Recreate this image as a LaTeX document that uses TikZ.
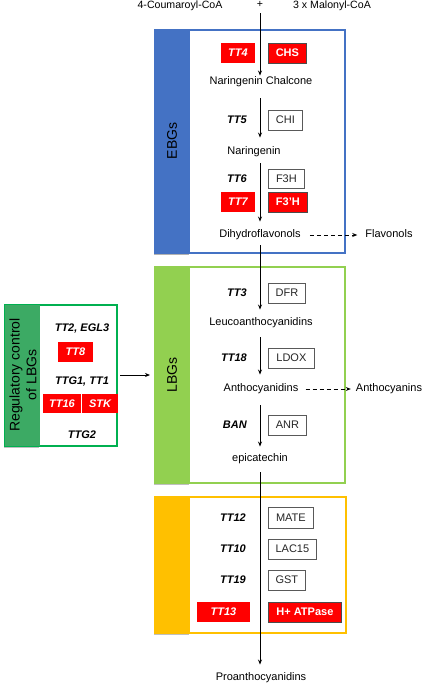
\documentclass[tikz,border=0pt]{standalone}
\usepackage{fontspec}
\setmainfont{Liberation Sans}
\usetikzlibrary{arrows.meta}
\newcommand\fsz[1]{\fontsize{#1}{#1}\selectfont}
\definecolor{ebgblue}{HTML}{4472C4}
\definecolor{lbggreen}{HTML}{92D050}
\definecolor{ylw}{HTML}{FFC000}
\definecolor{regborder}{HTML}{00B050}
\definecolor{regbar}{HTML}{3CAA64}
\definecolor{boxgray}{HTML}{595959}
\begin{document}
\begin{tikzpicture}[x=1pt,y=-1pt,
  txt/.style={font=\fsz{11}, inner sep=1pt, text height=8pt, text depth=2.5pt},
  toptxt/.style={font=\fsz{10.6}, inner sep=1pt, text height=7.5pt, text depth=2.2pt},
  gene/.style={font=\bfseries\itshape\fsz{11}, inner sep=1pt, anchor=east},
  regtxt/.style={font=\bfseries\itshape\fsz{11}, inner sep=1pt},
  redgene/.style={fill=red, text=white, font=\bfseries\itshape\fsz{11}, inner sep=0pt, minimum height=20pt},
  enz/.style={draw=boxgray, line width=0.8pt, fill=white, font=\fsz{11}, inner sep=0pt, minimum height=20pt, anchor=west, text=black!85},
  redenz/.style={draw=black!70, line width=0.8pt, fill=red, text=white, font=\bfseries\fsz{11}, inner sep=0pt, minimum height=20pt, anchor=west},
  grouplbl/.style={font=\fsz{14}, rotate=90, inner sep=0pt},
  arr/.style={-{Stealth[length=5pt,width=4pt]}, line width=0.8pt},
  darr/.style={-{Stealth[length=5pt,width=4pt]}, line width=0.8pt, dash pattern=on 4pt off 3pt}
]
\useasboundingbox (0,0) rectangle (423,685);

% ---------- group boxes ----------
\fill[gray!60] (153.5,31.5) rectangle (189,254.5);
\draw[ebgblue, line width=1.5pt, fill=white] (155,30) rectangle (345,253);
\fill[ebgblue] (155,30) rectangle (190,253);
\node[grouplbl] (ebg) at (172,141) {EBGs};

\fill[gray!50] (153.5,268.5) rectangle (189,484.5);
\draw[lbggreen, line width=1.5pt, fill=white] (155,267) rectangle (345,483);
\fill[lbggreen] (155,267) rectangle (190,483);
\node[grouplbl] (lbg) at (172,375) {LBGs};

\fill[gray!50] (153.5,498.5) rectangle (189,634.5);
\draw[ylw, line width=1.5pt, fill=white] (155,497) rectangle (346,633);
\fill[ylw] (155,497) rectangle (190,633);

\fill[gray!50] (3.5,306.5) rectangle (39,447.5);
\draw[regborder, line width=1.5pt, fill=white] (5,305) rectangle (117,446);
\fill[regbar] (5,305) rectangle (40,446);
\node[grouplbl, align=center, font=\fsz{14}\linespread{1.2}\selectfont] (reglbl) at (23,375) {Regulatory control\\of LBGs};
\coordinate (regE) at (117,375);
\coordinate (lbgW) at (155,375);

% ---------- top substrates ----------
\node[toptxt] (coum) at (180,6) {4-Coumaroyl-CoA};
\node[toptxt] (plus) at (260,5) {+};
\node[toptxt] (malo) at (332,6) {3 x Malonyl-CoA};

% ---------- pathway metabolites ----------
\node[txt] (chal) at (261,82) {Naringenin Chalcone};
\node[txt] (nar) at (254,152) {Naringenin};
\node[txt] (dhf) at (260,235) {Dihydroflavonols};
\node[txt] (flv) at (389,235) {Flavonols};
\node[txt] (leu) at (261,323) {Leucoanthocyanidins};
\node[txt] (ant) at (261,389) {Anthocyanidins};
\node[txt] (acy) at (389,389) {Anthocyanins};
\node[txt] (epi) at (260,459) {epicatechin};
\node[txt] (pro) at (261,678) {Proanthocyanidins};

% ---------- EBG genes / enzymes ----------
\node[redgene, minimum width=34pt] (tt4) at (238,53) {TT4};
\node[redenz, minimum width=38pt] (chs) at (268,53) {CHS};
\node[gene] (tt5) at (248,120) {TT5};
\node[enz, minimum width=34pt] (chi) at (268,120) {CHI};
\node[gene] (tt6) at (248,179) {TT6};
\node[enz, minimum width=36pt, minimum height=19pt] (f3h) at (268,178.5) {F3H};
\node[redgene, minimum width=34pt] (tt7) at (238,202) {TT7};
\node[redenz, minimum width=39pt] (f3ph) at (268,202) {F3'H};

% ---------- LBG genes / enzymes ----------
\node[gene] (tt3) at (248,293) {TT3};
\node[enz, minimum width=37pt] (dfr) at (268,293) {DFR};
\node[gene] (tt18) at (248,358) {TT18};
\node[enz, minimum width=46pt] (ldox) at (268,358) {LDOX};
\node[gene] (ban) at (248,425) {BAN};
\node[enz, minimum width=38pt] (anr) at (268,425) {ANR};

% ---------- transport genes ----------
\node[gene] (tt12) at (247,518) {TT12};
\node[enz, minimum width=45pt, minimum height=21pt] (mate) at (268,517.5) {MATE};
\node[gene] (tt10) at (247,549) {TT10};
\node[enz, minimum width=48pt] (lac) at (268,549) {LAC15};
\node[gene] (tt19) at (247,580) {TT19};
\node[enz, minimum width=37pt] (gst) at (268,580) {GST};
\node[redgene, minimum width=53pt] (tt13) at (223.5,612) {TT13};
\node[redenz, minimum width=73pt] (atp) at (268,612) {H+ ATPase};

% ---------- regulatory genes ----------
\node[regtxt] (tt2) at (82,329) {TT2, EGL3};
\node[redgene, minimum width=35pt] (tt8) at (75.5,352) {TT8};
\node[regtxt] (ttg1) at (82,382) {TTG1, TT1};
\node[redgene, minimum width=38pt, minimum height=19pt] (tt16) at (62,403.5) {TT16};
\node[redgene, minimum width=36pt, minimum height=19pt] (stk) at (100,403.5) {STK};
\node[regtxt] (ttg2) at (82,435) {TTG2};

% ---------- connectors ----------
\draw[arr, shorten <=2pt] (plus.south) -- (chal.north -| plus);
\draw[arr, shorten <=10pt, shorten >=8pt] (chal.south -| plus) -- (nar.north -| plus);
\draw[arr, shorten <=5pt, shorten >=7pt] (nar.south -| plus) -- (dhf.north -| plus);
\draw[arr, shorten <=4pt, shorten >=7pt] (dhf.south -| plus) -- (leu.north -| plus);
\draw[arr, shorten <=8pt, shorten >=8pt] (leu.south -| plus) -- (ant.north -| plus);
\draw[arr, shorten <=10pt, shorten >=6pt] (ant.south -| plus) -- (epi.north -| plus);
\draw[arr, shorten <=7pt, shorten >=7pt] (epi.south -| plus) -- (pro.north -| plus);

\draw[darr, shorten <=8pt, shorten >=7pt] (dhf.east) -- (flv.west);
\draw[darr, shorten <=6pt, shorten >=4pt] (ant.east) -- (acy.west);
\draw[arr, shorten <=3pt, shorten >=5pt] (regE) -- (lbgW);
\end{tikzpicture}
\end{document}
